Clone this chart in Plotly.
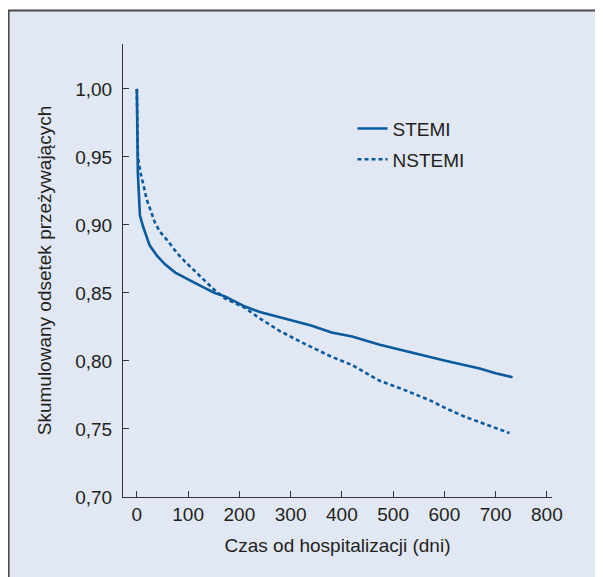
import plotly.graph_objects as go

stemi_days = [0, 0.5, 1, 2, 3, 6, 12, 25, 40, 55, 75, 94, 115, 133, 152, 172, 190, 211, 240,
              279, 302, 340, 380, 420, 474, 520, 560, 604, 640, 669, 700, 733]
stemi_surv = [1.000, 0.960, 0.945, 0.938, 0.930, 0.907, 0.899, 0.885, 0.877, 0.871, 0.865, 0.861,
              0.857, 0.8535, 0.850, 0.8475, 0.844, 0.840, 0.836, 0.832, 0.830, 0.826, 0.821, 0.818,
              0.812, 0.808, 0.804, 0.800, 0.797, 0.7945, 0.791, 0.788]

nstemi_days = [0, 0.5, 1, 2, 4, 6, 9, 12, 19, 35, 45, 61, 77, 94, 110, 126, 152, 172, 190, 211,
               237, 279, 320, 377, 420, 474, 520, 572, 604, 640, 669, 700, 727]
nstemi_surv = [1.000, 0.975, 0.962, 0.952, 0.945, 0.940, 0.935, 0.931, 0.919, 0.902, 0.895, 0.888,
               0.880, 0.873, 0.867, 0.861, 0.852, 0.846, 0.843, 0.839, 0.832, 0.822, 0.814, 0.8036,
               0.797, 0.7854, 0.779, 0.771, 0.765, 0.759, 0.755, 0.751, 0.747]

x_ticks = [0, 100, 200, 300, 400, 500, 600, 700, 800]
y_ticks = [0.70, 0.75, 0.80, 0.85, 0.90, 0.95, 1.00]

BLUE = "#0A5A9E"
TXT = "#231F20"
FONT = "Liberation Sans, Arial, sans-serif"
FS = 19

fig = go.Figure()
fig.add_trace(go.Scatter(x=stemi_days, y=stemi_surv, mode="lines", name="STEMI",
                         legendgroup="a", line=dict(color=BLUE, width=2.6)))
fig.add_trace(go.Scatter(x=nstemi_days, y=nstemi_surv, mode="lines", name="NSTEMI",
                         legendgroup="b", line=dict(color=BLUE, width=2.6, dash="4px,3px")))

# panel background with frame (page has an 8px body margin)
fig.add_shape(type="rect", xref="paper", yref="paper",
              x0=(0.7 - 115) / 429, x1=1.5, y0=-0.5, y1=(489 - 2.5) / 453,
              fillcolor="#E1E7F3", line=dict(color="#4A4A4A", width=1.8), layer="below")

fig.update_layout(
    width=603, height=577,
    margin=dict(l=115, r=59, t=36, b=88),
    paper_bgcolor="white", plot_bgcolor="rgba(0,0,0,0)",
    separators=", ",
    font=dict(family=FONT, size=FS, color=TXT),
    showlegend=True,
    legend=dict(x=0.535, y=0.855, xanchor="left", yanchor="top", bgcolor="rgba(0,0,0,0)",
                font=dict(size=FS, color=TXT), tracegroupgap=3, itemwidth=30),
    xaxis=dict(range=[-27, 810], tickvals=x_ticks, ticks="inside", ticklen=6,
               tickcolor="#333", showline=True, linecolor="#333", linewidth=1,
               showgrid=False, zeroline=False,
               title=dict(text="Czas od hospitalizacji (dni)", standoff=14,
                          font=dict(size=FS, color=TXT))),
    yaxis=dict(range=[0.70, 1.033], tickvals=y_ticks, tickformat=".2f", ticks="inside",
               ticklen=6, tickcolor="#333", showline=True, linecolor="#333", linewidth=1,
               showgrid=False, zeroline=False, ticklabelstandoff=6,
               title=dict(text="Skumulowany odsetek przeżywających", standoff=18,
                          font=dict(size=FS, color=TXT))),
)

fig.write_html("out.html")
